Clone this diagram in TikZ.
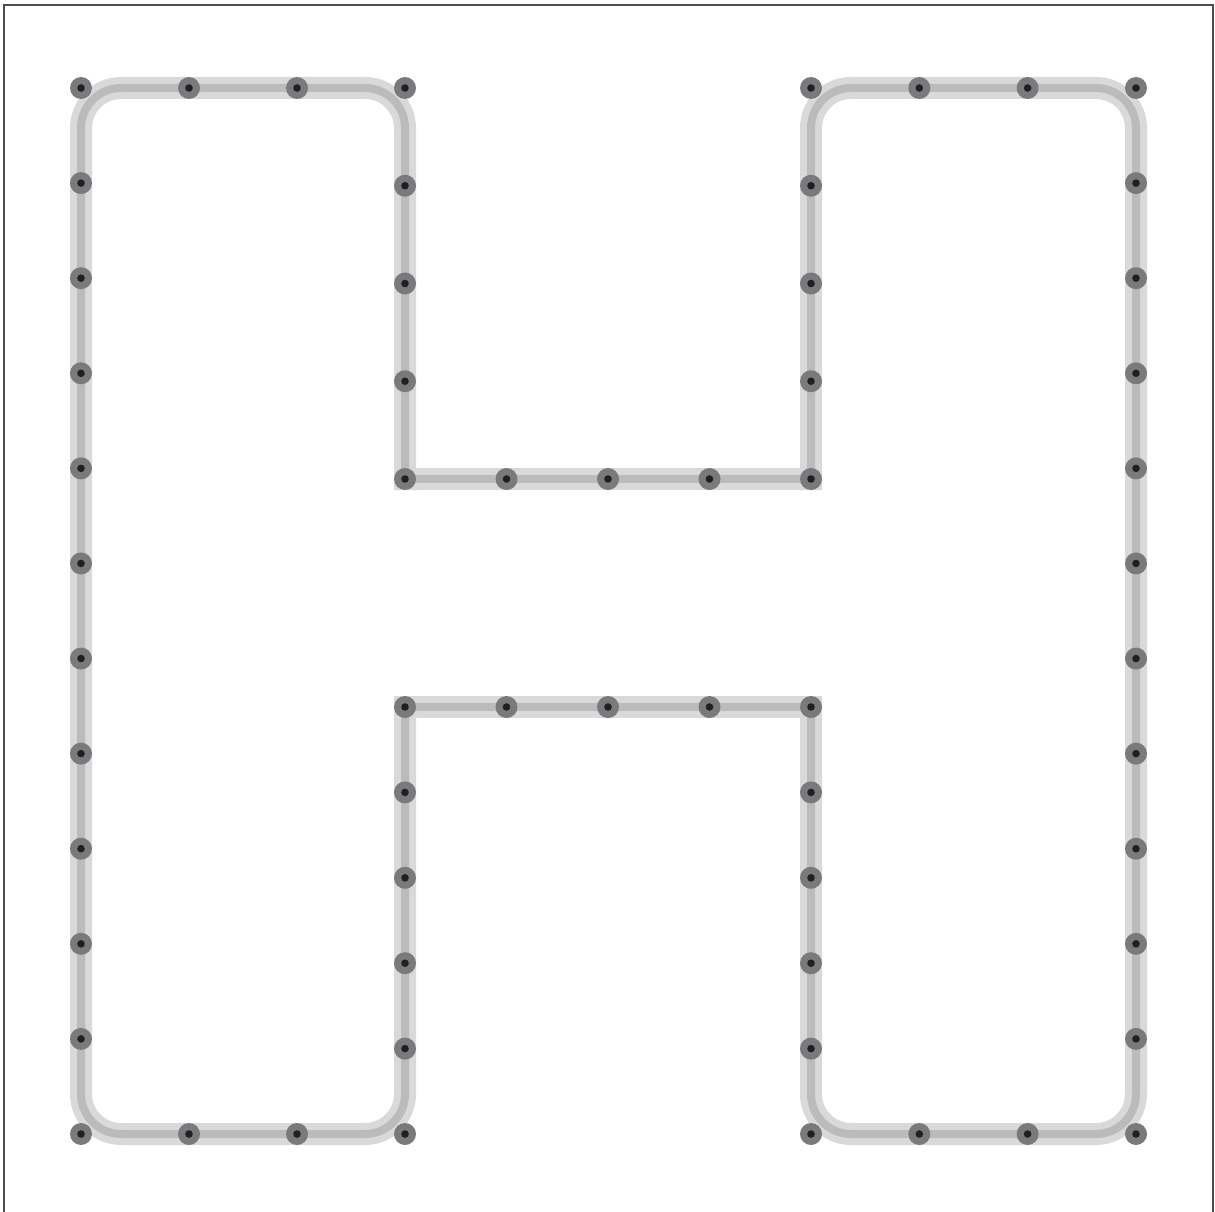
\documentclass[tikz,border=0pt]{standalone}
\usetikzlibrary{backgrounds}
\definecolor{BandLight}{HTML}{D9D9D9}
\definecolor{BandDark}{HTML}{BBBBBB}
\definecolor{StudGray}{HTML}{7A7A7C}
\definecolor{StudCore}{HTML}{231F20}
\begin{document}
\begin{tikzpicture}[x=1pt, y=-1pt,
    stud/.style={circle, fill=StudGray, minimum size=22pt, inner sep=0pt,
      path picture={\fill[StudCore] (path picture bounding box.center) circle (3.8pt);}},
    band/.style={line join=miter, line cap=rect, rounded corners=40pt}]
    \useasboundingbox (0,0) rectangle (1215,1212);
    \draw[line width=2pt, black!70] (3.7,5.3) rectangle (1213,1214);
    % outer sides of both bars
    \foreach \k in {0,...,11} {
        \node[stud] (lo\k) at (81,88+\k*95.09) {};
        \node[stud] (ro\k) at (1136,88+\k*95.09) {};
    }
    % inner sides, above and below the crossbar
    \foreach \k in {0,...,4} {
        \node[stud] (li\k) at (405,88+\k*97.75) {};
        \node[stud] (ri\k) at (811,88+\k*97.75) {};
    }
    \foreach \k in {0,...,5} {
        \node[stud] (lj\k) at (405,707+\k*85.4) {};
        \node[stud] (rj\k) at (811,707+\k*85.4) {};
    }
    % tops, bottoms and crossbar edges
    \foreach \k in {1,2} {
        \node[stud] (lt\k) at (81+\k*108,88) {};
        \node[stud] (lb\k) at (81+\k*108,1134) {};
        \node[stud] (rt\k) at (811+\k*108.3,88) {};
        \node[stud] (rb\k) at (811+\k*108.3,1134) {};
    }
    \foreach \k in {1,2,3} {
        \node[stud] (cu\k) at (405+\k*101.5,479) {};
        \node[stud] (cd\k) at (405+\k*101.5,707) {};
    }
    \begin{scope}[on background layer]
        \foreach \w/\c in {22/BandLight, 8/BandDark} {
            \draw[band, line width=\w pt, \c] (li4.center) -- (li0.center) -- (lo0.center)
                -- (lo11.center) -- (lj5.center) -- (lj0.center);
            \draw[band, line width=\w pt, \c] (ri4.center) -- (ri0.center) -- (ro0.center)
                -- (ro11.center) -- (rj5.center) -- (rj0.center);
            \draw[band, line width=\w pt, \c] (li4.center) -- (ri4.center);
            \draw[band, line width=\w pt, \c] (lj0.center) -- (rj0.center);
        }
    \end{scope}
\end{tikzpicture}
\end{document}
